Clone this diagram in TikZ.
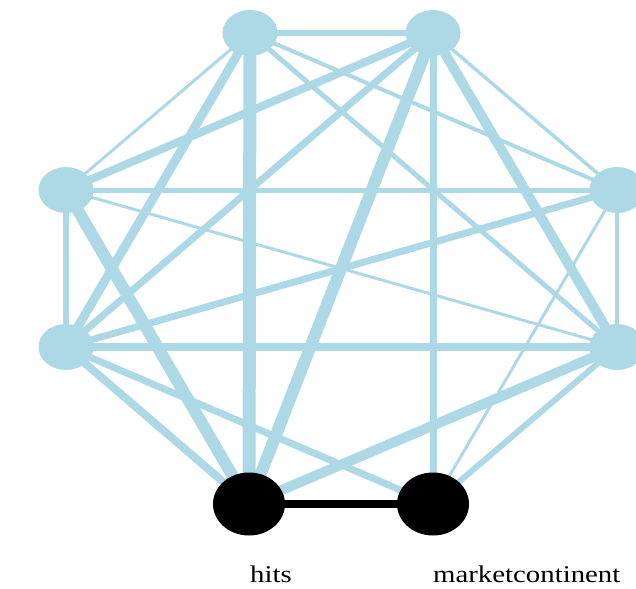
\documentclass[tikz,border=0pt]{standalone}
\usepackage{fontspec}
\usepackage{graphicx}
\setmainfont{Liberation Serif}
\usetikzlibrary{shapes.geometric,backgrounds}
\definecolor{edgeblue}{RGB}{173,216,230}
\begin{document}
\begin{tikzpicture}[x=1pt,y=-1pt,
  vnode/.style={ellipse, fill=edgeblue, minimum width=55pt, minimum height=46pt, inner sep=0pt},
  hnode/.style={ellipse, fill=black, minimum width=72pt, minimum height=63pt, inner sep=0pt},
  link/.style={draw=edgeblue, line width=#1},
  blink/.style={draw=black, line width=#1},
  nlabel/.style={anchor=base west, inner sep=0pt, font=\fontsize{24}{28}\selectfont}
]
\useasboundingbox (0,0) rectangle (636,588);

% vertices
\node[vnode] (t1) at (250,33) {};
\node[vnode] (t2) at (433,33) {};
\node[vnode] (l1) at (66,190) {};
\node[vnode] (l2) at (66,347) {};
\node[vnode] (r1) at (617,190) {};
\node[vnode] (r2) at (617,347) {};
\node[hnode] (hits) at (249,504) {};
\node[hnode] (mc) at (433,504) {};

% labels
\node[nlabel] (hitslbl) at (250,582) {\scalebox{1.2}[1]{hits}};
\node[nlabel] (mclbl) at (433,582) {\scalebox{1.2}[1]{marketcontinent}};

% weighted edges
\begin{scope}[on background layer]
  \draw[link=6pt] (t1.center) -- (t2.center);
  \draw[link=3pt] (t1.center) -- (l1.center);
  \draw[link=9pt] (t1.center) -- (l2.center);
  \draw[link=4pt] (t1.center) -- (r1.center);
  \draw[link=5pt] (t1.center) -- (r2.center);
  \draw[link=13pt] (t1.center) -- (hits.center);
  \draw[link=8pt] (t2.center) -- (l1.center);
  \draw[link=7pt] (t2.center) -- (l2.center);
  \draw[link=12pt] (t2.center) -- (hits.center);
  \draw[link=7pt] (t2.center) -- (mc.center);
  \draw[link=3.5pt] (t2.center) -- (r1.center);
  \draw[link=10pt] (t2.center) -- (r2.center);
  \draw[link=6pt] (l1.center) -- (l2.center);
  \draw[link=5pt] (l1.center) -- (r1.center);
  \draw[link=3pt] (l1.center) -- (r2.center);
  \draw[link=12pt] (l1.center) -- (hits.center);
  \draw[link=7pt] (l2.center) -- (r1.center);
  \draw[link=8pt] (l2.center) -- (r2.center);
  \draw[link=8pt] (l2.center) -- (hits.center);
  \draw[link=7pt] (l2.center) -- (mc.center);
  \draw[link=4pt] (r1.center) -- (r2.center);
  \draw[link=3pt] (r1.center) -- (mc.center);
  \draw[link=10pt] (r2.center) -- (hits.center);
  \draw[link=6pt] (r2.center) -- (mc.center);
  \draw[blink=8pt] (hits.center) -- (mc.center);
\end{scope}
\end{tikzpicture}
\end{document}
